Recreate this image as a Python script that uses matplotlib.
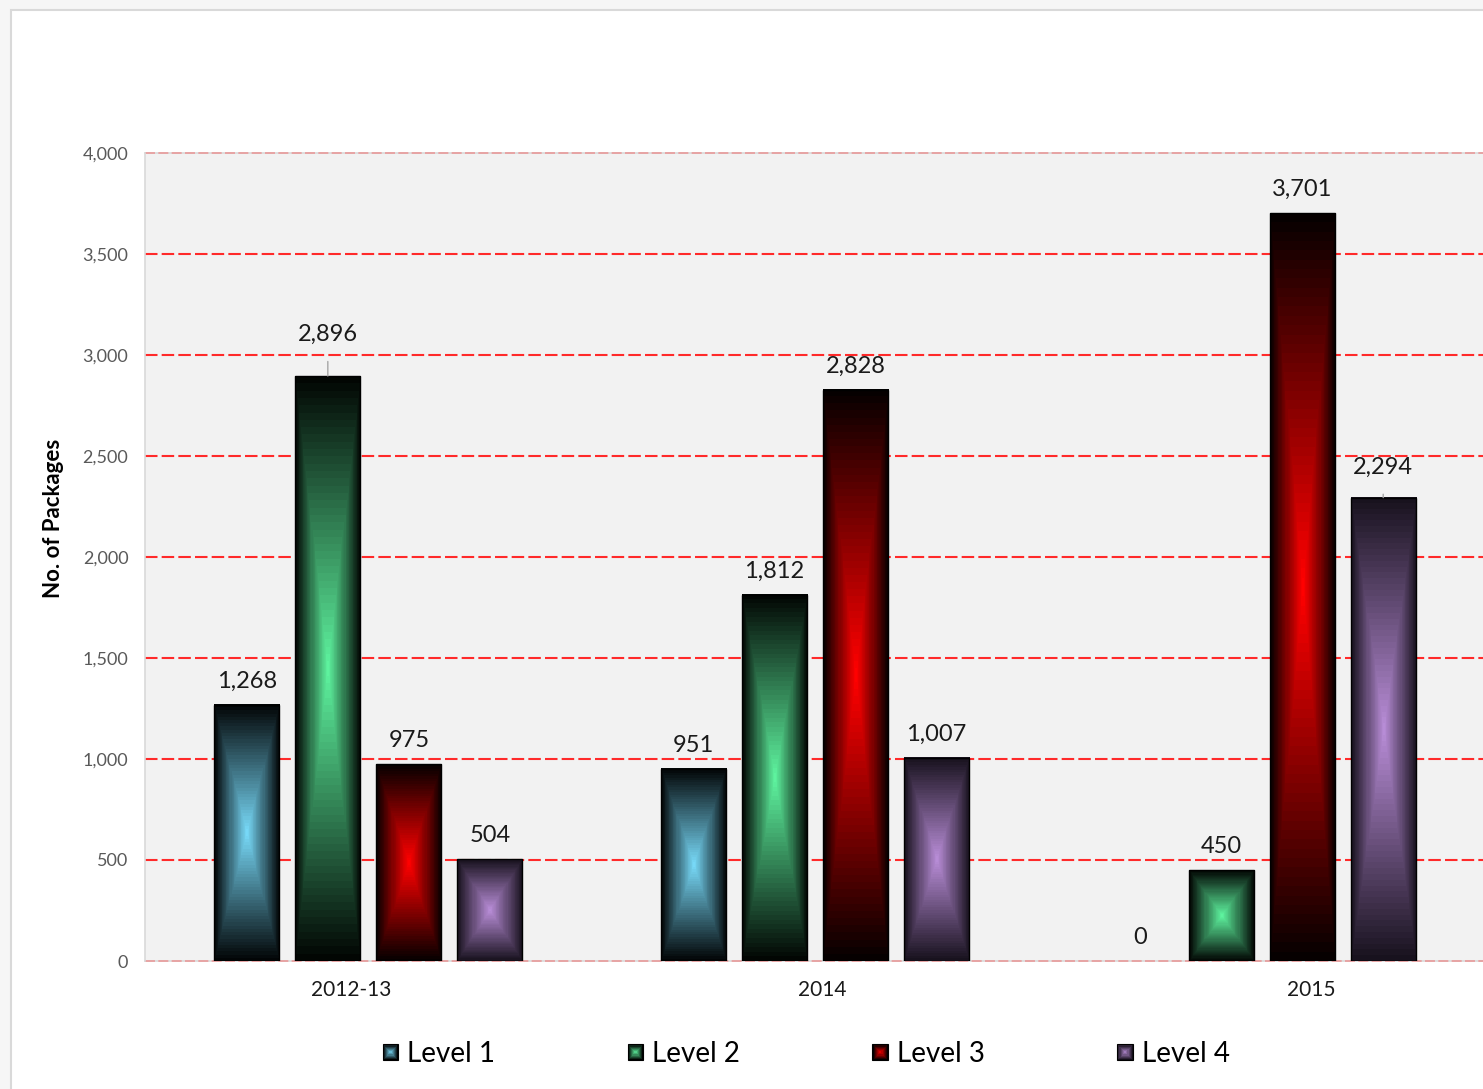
import numpy as np
import matplotlib
matplotlib.use("Agg")
import matplotlib.pyplot as plt
from matplotlib.patches import Rectangle
from matplotlib.legend_handler import HandlerBase

plt.rcParams['font.family'] = ['Lato', 'DejaVu Sans']

categories = ['2012-13', '2014', '2015']
levels = ['Level 1', 'Level 2', 'Level 3', 'Level 4']
values = {
    'Level 1': [1268, 951, 0],
    'Level 2': [2896, 1812, 450],
    'Level 3': [975, 2828, 3701],
    'Level 4': [504, 1007, 2294],
}
yticks = [0, 500, 1000, 1500, 2000, 2500, 3000, 3500, 4000]

# center colour of each gradient, edge is near black
center_col = {
    'Level 1': (0.47, 0.85, 0.97),
    'Level 2': (0.37, 0.95, 0.62),
    'Level 3': (1.00, 0.00, 0.00),
    'Level 4': (0.72, 0.55, 0.84),
}
edge_col = {
    'Level 1': (0.0, 0.0, 0.0),
    'Level 2': (0.0, 0.0, 0.0),
    'Level 3': (0.0, 0.0, 0.0),
    'Level 4': (0.08, 0.06, 0.10),
}


def box_gradient(c0, c1, ny, nx):
    u = np.abs(np.linspace(-1, 1, nx))[None, :]
    v = np.abs(np.linspace(-1, 1, ny))[:, None]
    t = np.maximum(u, v)
    t = np.floor(t * 40) / 40  # slight banding
    c0 = np.array(c0)
    c1 = np.array(c1)
    img = c0[None, None, :] * (1 - t[..., None]) + c1[None, None, :] * t[..., None]
    return np.clip(img, 0, 1)


class GradHandler(HandlerBase):
    def __init__(self, c0, c1):
        super().__init__()
        self.c0 = np.array(c0)
        self.c1 = np.array(c1)

    def create_artists(self, legend, orig_handle, xdescent, ydescent, width, height, fontsize, trans):
        s = height * 0.9
        x0 = -xdescent + (width - s) / 2
        y0 = -ydescent + (height - s) / 2
        arts = []
        n = 7
        for i in range(n):
            f = i / n
            col = self.c1 * (1 - f) + self.c0 * f
            w = s * (1 - f)
            r = Rectangle((x0 + (s - w) / 2, y0 + (s - w) / 2), w, w * 1.0,
                          facecolor=col, edgecolor='none', transform=trans)
            arts.append(r)
        arts[0].set_edgecolor('black')
        arts[0].set_linewidth(0.8)
        return arts


fig = plt.figure(figsize=(14.83, 10.89), dpi=100)
fig.patch.set_facecolor('#F6F6F6')
fig.patches.append(Rectangle((11 / 1483, -0.01), 1.0, 1 - 10 / 1089 + 0.01,
                             transform=fig.transFigure, facecolor='white',
                             edgecolor='#D9D9D9', linewidth=1.5, zorder=-5))

ax = fig.add_axes([145 / 1483, 128 / 1089, 1340 / 1483, 808 / 1089])
ax.set_facecolor('#F2F2F2')

x = np.arange(len(categories))
bw = 0.1456
step = 0.1814
offsets = [-1.5 * step, -0.5 * step, 0.5 * step, 1.5 * step]

handles = []
for k, lev in enumerate(levels):
    bars = ax.bar(x + offsets[k], values[lev], width=bw, facecolor='none',
                  edgecolor='black', linewidth=1.0, zorder=4, label=lev)
    handles.append(bars)
    for b, v in zip(bars, values[lev]):
        h = b.get_height()
        if h > 0:
            img = box_gradient(center_col[lev], edge_col[lev], 800, 64)
            ax.imshow(img, extent=[b.get_x(), b.get_x() + b.get_width(), 0, h],
                      aspect='auto', interpolation='nearest', zorder=3)
        else:
            b.set_linewidth(0)
        cx = b.get_x() + b.get_width() / 2
        if v in (2896, 2294):
            off = 30 if v == 2896 else 22
            ax.annotate(f"{v:,}", (cx, h), xytext=(0, off), textcoords='offset points',
                        ha='center', va='center', fontsize=17, color='#1a1a1a', zorder=6,
                        arrowprops=dict(arrowstyle='-', color='#A6A6A6', lw=1,
                                        shrinkA=10, shrinkB=0))
        else:
            ax.annotate(f"{v:,}", (cx, h), xytext=(0, 17), textcoords='offset points',
                        ha='center', va='center', fontsize=17, color='#1a1a1a', zorder=6)

ax.set_xlim(-0.5, 2.5)
ax.set_ylim(0, 4000)
ax.set_yticks(yticks)
ax.set_yticklabels([f"{t:,}" for t in yticks])
# category labels sit a little off the group centres in the original
ax.set_xticks(x + np.array([-0.039, 0.016, 0.11]))
ax.set_xticklabels(categories)
ax.tick_params(axis='y', length=0, pad=12, labelsize=13, labelcolor='#595959')
ax.tick_params(axis='x', length=0, pad=14, labelsize=15, labelcolor='#1a1a1a')

# dashed red gridlines, the edge ones look paler over a grey rule
for t in yticks:
    edge = t in (yticks[0], yticks[-1])
    if edge:
        ax.axhline(t, color='#D9D9D9', linewidth=1.2, zorder=1, clip_on=False)
    ax.axhline(t, color='#E99A9A' if edge else '#FF2A2A', linestyle=(0, (6, 2)),
               linewidth=1.2 if edge else 1.5, zorder=1.5, clip_on=False)

for s in ('top', 'right', 'bottom'):
    ax.spines[s].set_visible(False)
ax.spines['left'].set_color('#D9D9D9')
ax.spines['left'].set_linewidth(1.2)

ax.set_ylabel('No. of Packages', fontsize=16, fontweight='bold', color='black')
ax.yaxis.set_label_coords(-0.0604, 0.548)

hmap = {h: GradHandler(center_col[l], edge_col[l]) for h, l in zip(handles, levels)}
fig.legend(handles, levels, handler_map=hmap, loc='center', ncol=4,
           bbox_to_anchor=(806 / 1483, 1 - 1054 / 1089), frameon=False,
           fontsize=20, handlelength=0.6, handleheight=0.6, handletextpad=0.3,
           columnspacing=4.75)

fig.savefig('out.png', dpi=100, facecolor=fig.get_facecolor())
